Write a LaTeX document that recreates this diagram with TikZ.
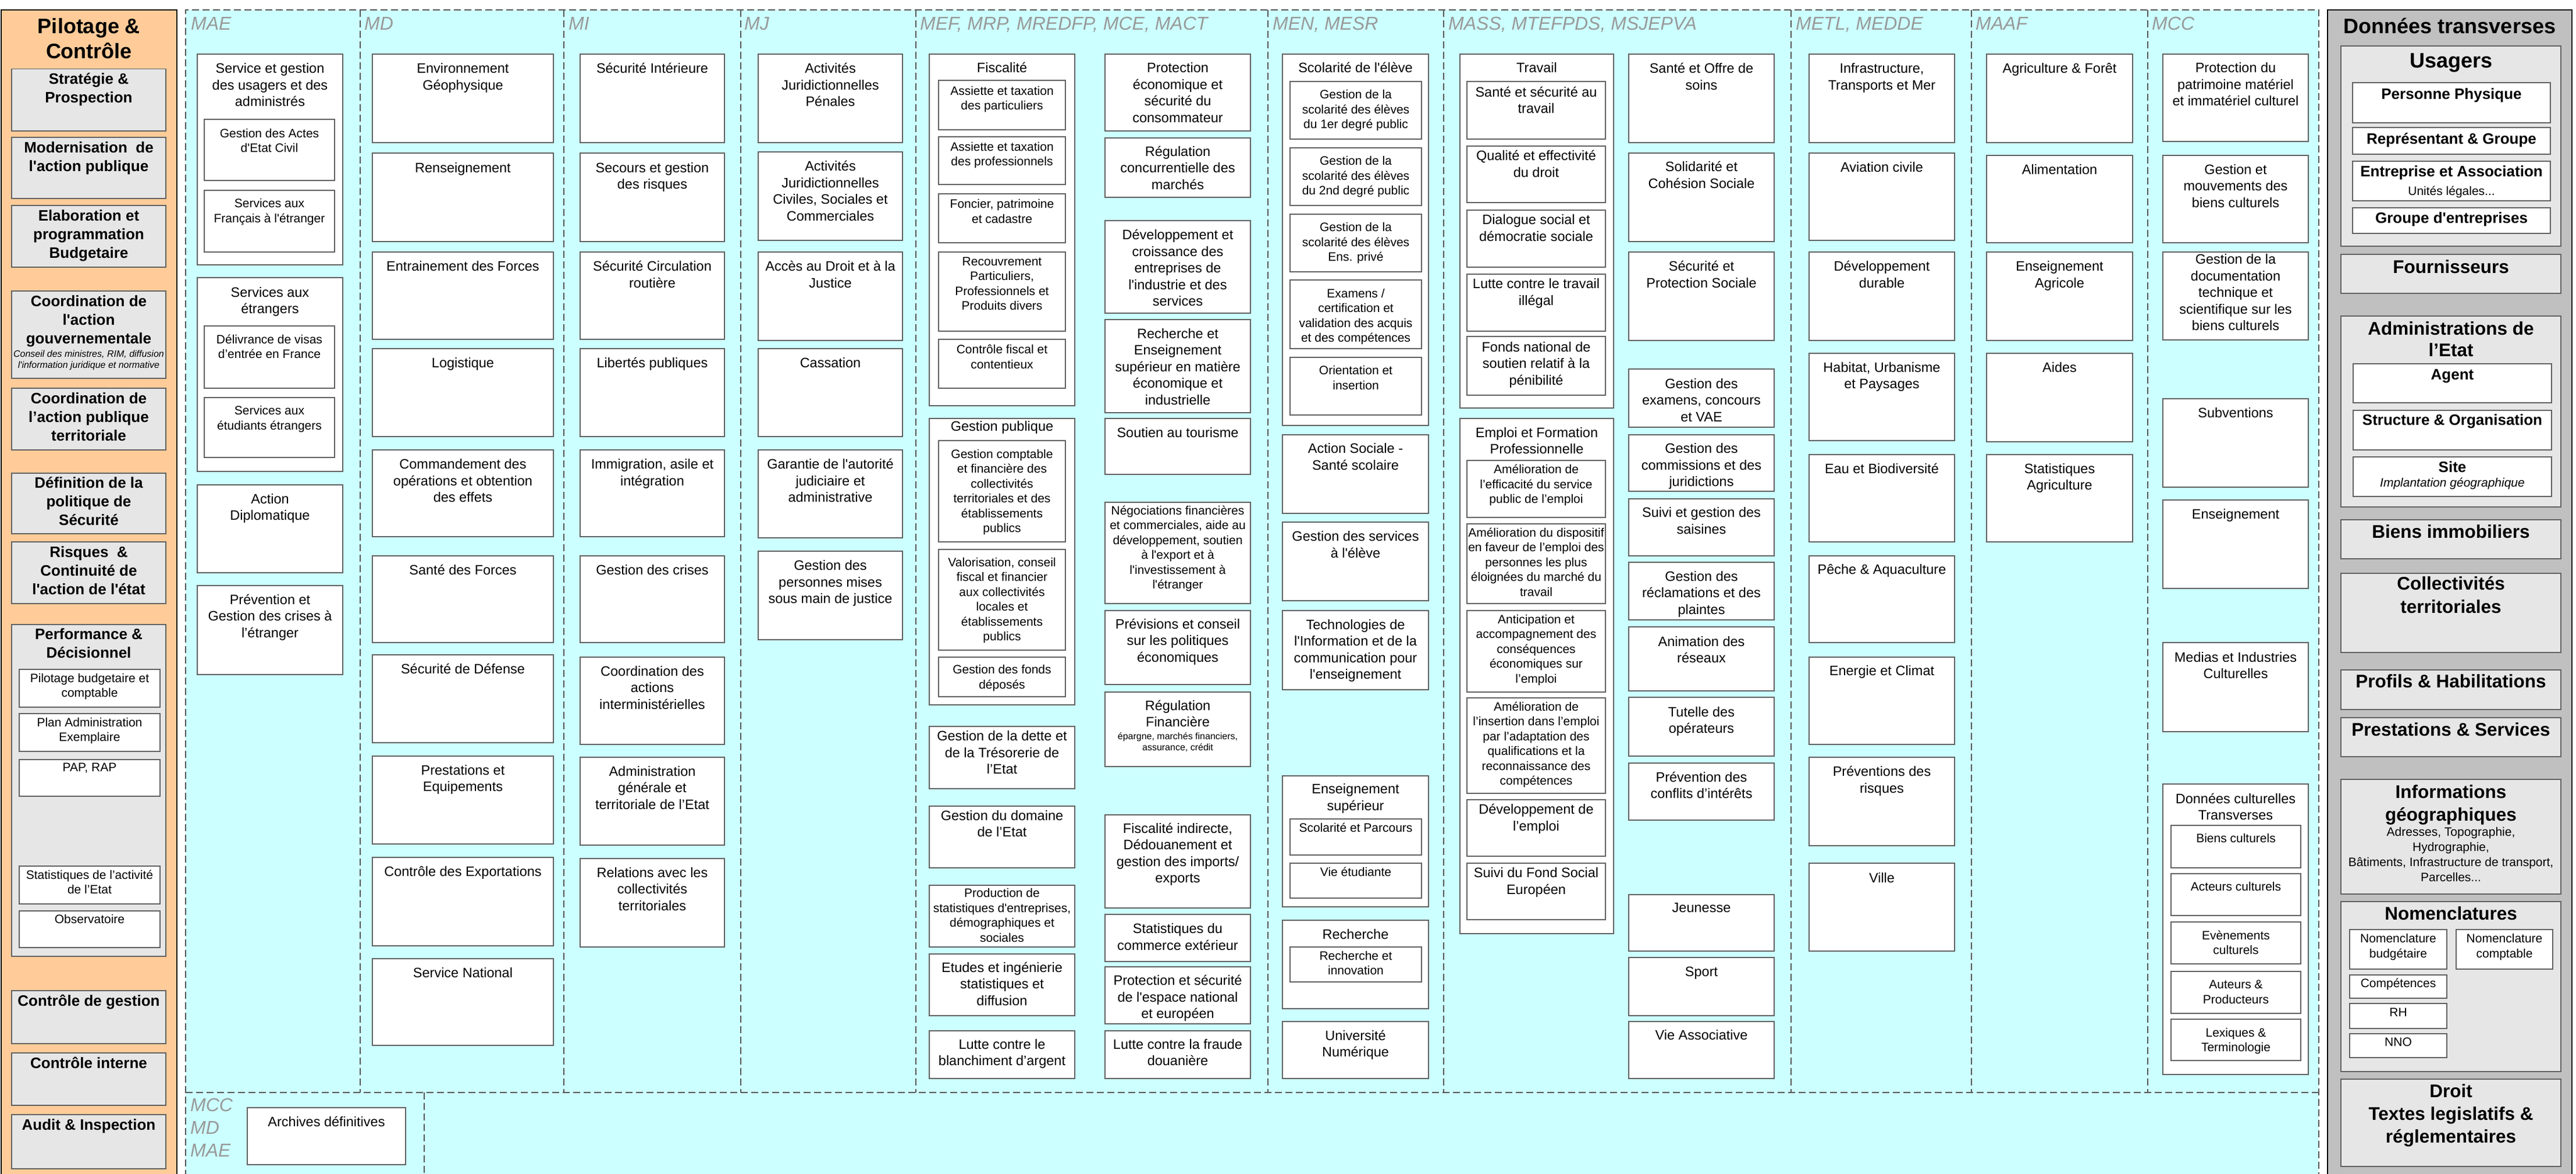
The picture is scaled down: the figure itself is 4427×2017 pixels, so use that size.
\documentclass[tikz,border=0pt]{standalone}
\usepackage{fontspec}
\setmainfont{Liberation Sans}[Ligatures=TeXOff]
\definecolor{peach}{HTML}{FFCC99}
\definecolor{cyanbg}{HTML}{CCFFFF}
\definecolor{panelgray}{HTML}{C0C0C0}
\definecolor{boxgray}{HTML}{E6E6E6}
\definecolor{bordergray}{HTML}{606060}
\definecolor{labelgray}{HTML}{999999}
\definecolor{dashgray}{HTML}{555555}
\tikzset{
  wbox/.style={draw=bordergray, fill=white, line width=1.5pt, inner sep=0pt, outer sep=0pt, rectangle},
  gbox/.style={wbox, fill=boxgray},
  pilot/.style={draw=black, fill=peach, line width=2.5pt, inner sep=0pt, outer sep=0pt, rectangle},
  donnees/.style={draw=black, fill=panelgray, line width=2.5pt, inner sep=0pt, outer sep=0pt, rectangle},
  dashline/.style={draw=dashgray, line width=1.4pt, dash pattern=on 12pt off 6pt},
  collabel/.style={font={\fontsize{32}{38}\selectfont\itshape}, text=labelgray, inner sep=0pt, anchor=base west},
  tm/.style={font={\fontsize{23.5}{28.5}\selectfont\def\fsr{\rule{0pt}{#1pt}}}},
  ts/.style={font={\fontsize{21}{25.5}\selectfont\def\fsr{\rule{0pt}{#1pt}}}},
  tb/.style={font={\fontsize{26}{32}\selectfont\bfseries\def\fsr{\rule{0pt}{#1pt}}}},
  th/.style={font={\fontsize{31.5}{37}\selectfont\bfseries\def\fsr{\rule{0pt}{#1pt}}}},
  tt/.style={font={\fontsize{36}{43}\selectfont\bfseries\def\fsr{\rule{0pt}{#1pt}}}},
}
\newcommand{\smit}{\fontsize{16}{19}\selectfont\mdseries\itshape}
\newcommand{\smi}{\fontsize{21}{25.5}\selectfont\mdseries\itshape}
\newcommand{\smr}{\fontsize{21}{25.5}\selectfont\mdseries}
\newcommand{\sme}{\fontsize{16}{19}\selectfont\mdseries}
% #1 name, #2 x1, #3 y1, #4 x2, #5 y2, #6 box style, #7 text style, #8 text
\newcommand{\mybox}[8]{%
  \node[#6, minimum width={((#4)-(#2))*1pt}, minimum height={((#5)-(#3))*1pt}] (#1) at ({((#2)+(#4))/2},{((#3)+(#5))/2}) {};
  \node[#7, anchor=north, inner sep=0pt, align=center] (#1-t) at (#1.north) {\fsr #8};
}
\begin{document}
\begin{tikzpicture}[x=1pt,y=-1pt]
\path[use as bounding box] (0,0) rectangle (4427,2017);
\clip (0,0) rectangle (4427,2017);
\fill[white] (0,0) rectangle (4427,2017);
% ministries area
\fill[cyanbg] (319,17) rectangle (3985,2040);
\draw[dashline] (319,2040) -- (319,17) -- (3985,17) -- (3985,2040);
\foreach \x in {619,969,1273,1574,2179,2481,3078,3388,3691} \draw[dashline] (\x,17) -- (\x,1877);
\draw[dashline] (319,1877) -- (3985,1877);
\draw[dashline] (729,1877) -- (729,2040);
% column labels
\node[collabel] (l-mae) at (328,52) {MAE};
\node[collabel] (l-md) at (626,52) {MD};
\node[collabel] (l-mi) at (977,52) {MI};
\node[collabel] (l-mj) at (1279,52) {MJ};
\node[collabel] (l-mef) at (1581,52) {MEF, MRP, MREDFP, MCE, MACT};
\node[collabel] (l-men) at (2187,52) {MEN, MESR};
\node[collabel] (l-mass) at (2489,52) {MASS, MTEFPDS, MSJEPVA};
\node[collabel] (l-metl) at (3086,52) {METL, MEDDE};
\node[collabel] (l-maaf) at (3395,52) {MAAF};
\node[collabel] (l-mcc) at (3698,52) {MCC};
\node[collabel] (l-b1) at (327,1909.5) {MCC};
\node[collabel] (l-b2) at (327,1948.5) {MD};
\node[collabel] (l-b3) at (327,1987.5) {MAE};
\mybox{arch}{425}{1903}{697}{2001}{wbox}{tm=32}{Archives définitives}
% MAE
\mybox{mae1}{339}{93}{589}{455}{wbox}{tm=32.5}{Service et gestion\\des usagers et des\\administrés}
\mybox{mae1a}{351}{205}{575}{310}{wbox}{ts=31}{Gestion des Actes\\d'Etat Civil}
\mybox{mae1b}{351}{327}{575}{433}{wbox}{ts=29.5}{Services aux\\Français à l'étranger}
\mybox{mae2}{339}{477}{589}{810}{wbox}{tm=33}{Services aux\\étrangers}
\mybox{mae2a}{351}{560}{575}{667}{wbox}{ts=30}{Délivrance de visas\\d’entrée en France}
\mybox{mae2b}{351}{683}{575}{786}{wbox}{ts=29.5}{Services aux\\étudiants étrangers}
\mybox{mae3}{339}{833}{589}{984}{wbox}{tm=32}{Action\\Diplomatique}
\mybox{mae4}{339}{1006}{589}{1159}{wbox}{tm=32}{Prévention et\\Gestion des crises à\\l’étranger}
% MD
\mybox{md1}{640}{93}{951}{245}{wbox}{tm=32.5}{Environnement\\Géophysique}
\mybox{md2}{640}{263}{951}{415}{wbox}{tm=33}{Renseignement}
\mybox{md3}{640}{433}{951}{583}{wbox}{tm=32.5}{Entrainement des Forces}
\mybox{md4}{640}{599}{951}{750}{wbox}{tm=32.5}{Logistique}
\mybox{md5}{640}{773}{951}{922}{wbox}{tm=32.5}{Commandement des\\opérations et obtention\\des effets}
\mybox{md6}{640}{955}{951}{1104}{wbox}{tm=32.5}{Santé des Forces}
\mybox{md7}{640}{1125}{951}{1276}{wbox}{tm=32}{Sécurité de Défense}
\mybox{md8}{640}{1299}{951}{1450}{wbox}{tm=32}{Prestations et\\Equipements}
\mybox{md9}{640}{1473}{951}{1625}{wbox}{tm=32}{Contrôle des Exportations}
\mybox{md10}{640}{1647}{951}{1796}{wbox}{tm=32}{Service National}
% MI
\mybox{mi1}{997}{93}{1245}{245}{wbox}{tm=32.5}{Sécurité Intérieure}
\mybox{mi2}{997}{263}{1245}{415}{wbox}{tm=33}{Secours et gestion\\des risques}
\mybox{mi3}{997}{433}{1245}{583}{wbox}{tm=32.5}{Sécurité Circulation\\routière}
\mybox{mi4}{997}{599}{1245}{750}{wbox}{tm=32.5}{Libertés publiques}
\mybox{mi5}{997}{773}{1245}{922}{wbox}{tm=32.5}{Immigration, asile et\\intégration}
\mybox{mi6}{997}{955}{1245}{1104}{wbox}{tm=32.5}{Gestion des crises}
\mybox{mi7}{997}{1129}{1245}{1279}{wbox}{tm=32}{Coordination des\\actions\\interministérielles}
\mybox{mi8}{997}{1301}{1245}{1452}{wbox}{tm=32}{Administration\\générale et\\territoriale de l’Etat}
\mybox{mi9}{997}{1475}{1245}{1627}{wbox}{tm=32}{Relations avec les\\collectivités\\territoriales}
% MJ
\mybox{mj1}{1303}{93}{1551}{245}{wbox}{tm=32.5}{Activités\\Juridictionnelles\\Pénales}
\mybox{mj2}{1303}{261}{1551}{413}{wbox}{tm=32.5}{Activités\\Juridictionnelles\\Civiles, Sociales et\\Commerciales}
\mybox{mj3}{1303}{433}{1551}{585}{wbox}{tm=32.5}{Accès au Droit et à la\\Justice}
\mybox{mj4}{1303}{599}{1551}{750}{wbox}{tm=32.5}{Cassation}
\mybox{mj5}{1303}{773}{1551}{924}{wbox}{tm=32.5}{Garantie de l'autorité\\judiciaire et\\administrative}
\mybox{mj6}{1303}{947}{1551}{1099}{wbox}{tm=32.5}{Gestion des\\personnes mises\\sous main de justice}
% MEF left
\mybox{mef1}{1597}{93}{1847}{697}{wbox}{tm=31}{Fiscalité}
\mybox{mef1a}{1613}{138}{1831}{223}{wbox}{ts=25}{Assiette et taxation\\des particuliers}
\mybox{mef1b}{1613}{235}{1831}{317}{wbox}{ts=24}{Assiette et taxation\\des professionnels}
\mybox{mef1c}{1613}{333}{1831}{417}{wbox}{ts=24.5}{Foncier, patrimoine\\et cadastre}
\mybox{mef1d}{1613}{433}{1831}{569}{wbox}{ts=23}{Recouvrement\\Particuliers,\\Professionnels et\\Produits divers}
\mybox{mef1e}{1613}{583}{1831}{667}{wbox}{ts=24.5}{Contrôle fiscal et\\contentieux}
\mybox{mef2}{1597}{719}{1847}{1211}{wbox}{tm=21.5}{Gestion publique}
\mybox{mef2a}{1613}{757}{1831}{931}{wbox}{ts=30}{Gestion comptable\\et financière des\\collectivités\\territoriales et des\\établissements\\publics}
\mybox{mef2b}{1613}{944}{1831}{1117}{wbox}{ts=29}{Valorisation, conseil\\fiscal et financier\\aux collectivités\\locales et\\établissements\\publics}
\mybox{mef2c}{1613}{1129}{1831}{1197}{wbox}{ts=28.5}{Gestion des fonds\\déposés}
\mybox{mef3}{1597}{1248}{1847}{1355}{wbox}{tm=24.5}{Gestion de la dette et\\de la Trésorerie de\\l’Etat}
\mybox{mef4}{1597}{1385}{1847}{1491}{wbox}{tm=24}{Gestion du domaine\\de l’Etat}
\mybox{mef5}{1597}{1521}{1847}{1627}{wbox}{ts=20.5}{Production de\\statistiques d'entreprises,\\démographiques et\\sociales}
\mybox{mef6}{1597}{1639}{1847}{1745}{wbox}{tm=31}{Etudes et ingénierie\\statistiques et\\diffusion}
\mybox{mef7}{1597}{1771}{1847}{1853}{wbox}{tm=31}{Lutte contre le\\blanchiment d’argent}
% MEF right
\mybox{mef8}{1899}{93}{2149}{225}{wbox}{tm=31.5}{Protection\\économique et\\sécurité du\\consommateur}
\mybox{mef9}{1899}{237}{2149}{339}{wbox}{tm=31}{Régulation\\concurrentielle des\\marchés}
\mybox{mef10}{1899}{379}{2149}{538}{wbox}{tm=32.5}{Développement et\\croissance des\\entreprises de\\l'industrie et des\\services}
\mybox{mef11}{1899}{549}{2149}{709}{wbox}{tm=32}{Recherche et\\Enseignement\\supérieur en matière\\économique et\\industrielle}
\mybox{mef12}{1899}{719}{2149}{815}{wbox}{tm=32.5}{Soutien au tourisme}
\mybox{mef13}{1899}{863}{2149}{1037}{wbox}{ts=21}{Négociations financières\\et commerciales, aide au\\développement, soutien\\à l'export et à\\l'investissement à\\l'étranger}
\mybox{mef14}{1899}{1049}{2149}{1176}{wbox}{tm=31}{Prévisions et conseil\\sur les politiques\\économiques}
\mybox{mef15}{1899}{1189}{2149}{1317}{wbox}{tm=31}{Régulation\\Financière\\[-7pt]{\sme épargne, marchés financiers,}\\[-9.5pt]{\sme assurance, crédit}}
\mybox{mef16}{1899}{1400}{2149}{1560}{wbox}{tm=31}{Fiscalité indirecte,\\Dédouanement et\\gestion des imports/\\exports}
\mybox{mef17}{1899}{1571}{2149}{1652}{wbox}{tm=32.5}{Statistiques du\\commerce extérieur}
\mybox{mef18}{1899}{1661}{2149}{1759}{wbox}{tm=31.5}{Protection et sécurité\\de l'espace national\\et européen}
\mybox{mef19}{1899}{1771}{2149}{1853}{wbox}{tm=31}{Lutte contre la fraude\\douanière}
% MEN
\mybox{men1}{2204}{93}{2455}{731}{wbox}{tm=31.5}{Scolarité de l'élève}
\mybox{men1a}{2217}{140}{2443}{239}{wbox}{ts=29.5}{Gestion de la\\scolarité des élèves\\du 1er degré public}
\mybox{men1b}{2217}{254}{2443}{353}{wbox}{ts=29.5}{Gestion de la\\scolarité des élèves\\du 2nd degré public}
\mybox{men1c}{2217}{368}{2443}{467}{wbox}{ts=29.5}{Gestion de la\\scolarité des élèves\\Ens. privé}
\mybox{men1d}{2217}{481}{2443}{599}{wbox}{ts=30}{Examens /\\certification et\\validation des acquis\\et des compétences}
\mybox{men1e}{2217}{614}{2443}{713}{wbox}{ts=29.5}{Orientation et\\insertion}
\mybox{men2}{2204}{747}{2455}{882}{wbox}{tm=31.5}{Action Sociale -\\Santé scolaire}
\mybox{men3}{2204}{897}{2455}{1032}{wbox}{tm=32.5}{Gestion des services\\à l'élève}
\mybox{men4}{2204}{1049}{2455}{1185}{wbox}{tm=32}{Technologies de\\l'Information et de la\\communication pour\\l'enseignement}
\mybox{men5}{2204}{1333}{2455}{1558}{wbox}{tm=30.5}{Enseignement\\supérieur}
\mybox{men5a}{2217}{1407}{2443}{1469}{wbox}{ts=22}{Scolarité et Parcours}
\mybox{men5b}{2217}{1483}{2443}{1543}{wbox}{ts=22}{Vie étudiante}
\mybox{men6}{2204}{1581}{2455}{1733}{wbox}{tm=32}{Recherche}
\mybox{men6a}{2217}{1627}{2443}{1687}{wbox}{ts=22}{Recherche et\\innovation}
\mybox{men7}{2204}{1755}{2455}{1853}{wbox}{tm=32}{Université\\Numérique}
% MASS left
\mybox{mas1}{2509}{93}{2773}{701}{wbox}{tm=31.5}{Travail}
\mybox{mas1a}{2521}{140}{2759}{239}{wbox}{tm=26}{Santé et sécurité au\\travail}
\mybox{mas1b}{2521}{251}{2759}{348}{wbox}{tm=24.5}{Qualité et effectivité\\du droit}
\mybox{mas1c}{2521}{361}{2759}{459}{wbox}{tm=24.5}{Dialogue social et\\démocratie sociale}
\mybox{mas1d}{2521}{471}{2759}{569}{wbox}{tm=24.5}{Lutte contre le travail\\illégal}
\mybox{mas1e}{2521}{578}{2759}{679}{wbox}{tm=26}{Fonds national de\\soutien relatif à la\\pénibilité}
\mybox{mas2}{2509}{719}{2773}{1604}{wbox}{tm=32}{Emploi et Formation\\Professionnelle}
\mybox{mas2a}{2521}{791}{2759}{889}{wbox}{ts=22.5}{Amélioration de\\l’efficacité du service\\public de l’emploi}
\mybox{mas2b}{2521}{900}{2759}{1037}{wbox}{ts=22}{Amélioration du dispositif\\en faveur de l’emploi des\\personnes les plus\\éloignées du marché du\\travail}
\mybox{mas2c}{2521}{1049}{2759}{1189}{wbox}{ts=22}{Anticipation et\\accompagnement des\\conséquences\\économiques sur\\l’emploi}
\mybox{mas2d}{2521}{1199}{2759}{1363}{wbox}{ts=22}{Amélioration de\\l’insertion dans l’emploi\\par l’adaptation des\\qualifications et la\\reconnaissance des\\compétences}
\mybox{mas2e}{2521}{1374}{2759}{1471}{wbox}{tm=24.5}{Développement de\\l’emploi}
\mybox{mas2f}{2521}{1483}{2759}{1580}{wbox}{tm=24.5}{Suivi du Fond Social\\Européen}
% MASS right
\mybox{mas3}{2799}{93}{3049}{245}{wbox}{tm=32.5}{Santé et Offre de\\soins}
\mybox{mas4}{2799}{263}{3049}{415}{wbox}{tm=31.5}{Solidarité et\\Cohésion Sociale}
\mybox{mas5}{2799}{433}{3049}{585}{wbox}{tm=32.5}{Sécurité et\\Protection Sociale}
\mybox{mas6}{2799}{634}{3049}{734}{wbox}{tm=33}{Gestion des\\examens, concours\\et VAE}
\mybox{mas7}{2799}{747}{3049}{844}{wbox}{tm=31.5}{Gestion des\\commissions et des\\juridictions}
\mybox{mas8}{2799}{857}{3049}{955}{wbox}{tm=31.5}{Suivi et gestion des\\saisines}
\mybox{mas9}{2799}{966}{3049}{1065}{wbox}{tm=32}{Gestion des\\réclamations et des\\plaintes}
\mybox{mas10}{2799}{1077}{3049}{1187}{wbox}{tm=33}{Animation des\\réseaux}
\mybox{mas11}{2799}{1198}{3049}{1299}{wbox}{tm=33}{Tutelle des\\opérateurs}
\mybox{mas12}{2799}{1311}{3049}{1409}{wbox}{tm=32}{Prévention des\\conflits d’intérêts}
\mybox{mas13}{2799}{1537}{3049}{1634}{wbox}{tm=30.5}{Jeunesse}
\mybox{mas14}{2799}{1645}{3049}{1745}{wbox}{tm=32}{Sport}
\mybox{mas15}{2799}{1755}{3049}{1853}{wbox}{tm=31.5}{Vie Associative}
% METL
\mybox{met1}{3109}{93}{3359}{245}{wbox}{tm=32.5}{Infrastructure,\\Transports et Mer}
\mybox{met2}{3109}{263}{3359}{413}{wbox}{tm=32}{Aviation civile}
\mybox{met3}{3109}{433}{3359}{585}{wbox}{tm=32.5}{Développement\\durable}
\mybox{met4}{3109}{607}{3359}{757}{wbox}{tm=32}{Habitat, Urbanisme\\et Paysages}
\mybox{met5}{3109}{781}{3359}{931}{wbox}{tm=32}{Eau et Biodiversité}
\mybox{met6}{3109}{955}{3359}{1104}{wbox}{tm=31.5}{Pêche \& Aquaculture}
\mybox{met7}{3109}{1129}{3359}{1279}{wbox}{tm=31}{Energie et Climat}
\mybox{met8}{3109}{1301}{3359}{1453}{wbox}{tm=32.5}{Préventions des\\risques}
\mybox{met9}{3109}{1483}{3359}{1634}{wbox}{tm=33}{Ville}
% MAAF
\mybox{maa1}{3414}{93}{3665}{245}{wbox}{tm=32.5}{Agriculture \& Forêt}
\mybox{maa2}{3414}{267}{3665}{417}{wbox}{tm=32}{Alimentation}
\mybox{maa3}{3414}{433}{3665}{585}{wbox}{tm=32.5}{Enseignement\\Agricole}
\mybox{maa4}{3414}{607}{3665}{759}{wbox}{tm=32}{Aides}
\mybox{maa5}{3414}{781}{3665}{931}{wbox}{tm=32}{Statistiques\\Agriculture}
% MCC
\mybox{mcc1}{3717}{93}{3967}{243}{wbox}{tm=31.5}{Protection du\\patrimoine matériel\\et immatériel culturel}
\mybox{mcc2}{3717}{267}{3967}{417}{wbox}{tm=32}{Gestion et\\mouvements des\\biens culturels}
\mybox{mcc3}{3717}{433}{3967}{584}{wbox}{tm=20.5}{Gestion de la\\documentation\\technique et\\scientifique sur les\\biens culturels}
\mybox{mcc4}{3717}{685}{3967}{837}{wbox}{tm=32.5}{Subventions}
\mybox{mcc5}{3717}{859}{3967}{1011}{wbox}{tm=32.5}{Enseignement}
\mybox{mcc6}{3717}{1104}{3967}{1257}{wbox}{tm=33}{Medias et Industries\\Culturelles}
\mybox{mcc7}{3717}{1347}{3967}{1846}{wbox}{tm=33}{Données culturelles\\Transverses}
\mybox{mcc7a}{3731}{1418}{3954}{1491}{wbox}{ts=29.5}{Biens culturels}
\mybox{mcc7b}{3731}{1501}{3954}{1573}{wbox}{ts=29.5}{Acteurs culturels}
\mybox{mcc7c}{3731}{1584}{3954}{1656}{wbox}{ts=30}{Evènements\\culturels}
\mybox{mcc7d}{3731}{1669}{3954}{1741}{wbox}{ts=29.5}{Auteurs \&\\Producteurs}
\mybox{mcc7e}{3731}{1751}{3954}{1822}{wbox}{ts=30}{Lexiques \&\\Terminologie}
% Pilotage & Controle panel
\mybox{pc}{2}{17}{304}{2040}{pilot}{tt=40}{Pilotage \&\\Contrôle}
\mybox{pc1}{20}{118.5}{285}{225}{gbox}{tb=26}{Stratégie \&\\Prospection}
\mybox{pc2}{20}{236}{285}{341}{gbox}{tb=26.5}{Modernisation~~de\\l'action publique}
\mybox{pc3}{20}{353}{285}{459}{gbox}{tb=26}{Elaboration et\\programmation\\Budgetaire}
\mybox{pc4}{20}{500}{285}{650}{gbox}{tb=26}{Coordination de\\l'action\\gouvernementale\\[-9pt]{\smit Conseil des ministres, RIM, diffusion}\\[-13pt]{\smit l'information juridique et normative}}
\mybox{pc5}{20}{667}{285}{773}{gbox}{tb=26.5}{Coordination de\\l’action publique\\territoriale}
\mybox{pc6}{20}{813}{285}{917}{gbox}{tb=25.5}{Définition de la\\politique de\\Sécurité}
\mybox{pc7}{20}{931}{285}{1037}{gbox}{tb=26.5}{Risques~~\&\\Continuité de\\l'action de l'état}
\mybox{pc8}{20}{1073}{285}{1643}{gbox}{tb=25.5}{Performance \&\\Décisionnel}
\mybox{pc8a}{33}{1150}{275}{1215}{wbox}{ts=22}{Pilotage budgetaire et\\comptable}
\mybox{pc8b}{33}{1226}{275}{1291}{wbox}{ts=22}{Plan Administration\\Exemplaire}
\mybox{pc8c}{33}{1305}{275}{1368}{wbox}{ts=20.5}{PAP, RAP}
\mybox{pc8d}{33}{1488}{275}{1553}{wbox}{ts=22}{Statistiques de l’activité\\de l’Etat}
\mybox{pc8e}{33}{1565}{275}{1628}{wbox}{ts=21}{Observatoire}
\mybox{pc9}{20}{1702}{285}{1793}{gbox}{tb=26.5}{Contrôle de gestion}
\mybox{pc10}{20}{1809}{285}{1899}{gbox}{tb=26}{Contrôle interne}
\mybox{pc11}{20}{1915}{285}{2008}{gbox}{tb=26}{Audit \& Inspection}
% Donnees transverses panel
\mybox{dt}{4000}{17}{4420}{2040}{donnees}{tt=40}{Données transverses}
\mybox{dt1}{4023}{79}{4401}{423}{gbox}{tt=37}{Usagers}
\mybox{dt1a}{4043}{142}{4383}{211}{wbox}{tb=28}{Personne Physique}
\mybox{dt1b}{4043}{219}{4383}{265}{wbox}{tb=28}{Représentant \& Groupe}
\mybox{dt1c}{4043}{277}{4383}{345}{wbox}{tb=26}{Entreprise et Association\\{\smr Unités légales...}}
\mybox{dt1d}{4043}{357}{4383}{401}{wbox}{tb=26}{Groupe d'entreprises}
\mybox{dt2}{4023}{437}{4401}{504}{gbox}{th=32}{Fournisseurs}
\mybox{dt3}{4023}{543}{4401}{871}{gbox}{th=32}{Administrations de\\l’Etat}
\mybox{dt3a}{4044}{625}{4385}{692}{wbox}{tb=27}{Agent}
\mybox{dt3b}{4044}{705}{4385}{773}{wbox}{tb=25.5}{Structure \& Organisation}
\mybox{dt3c}{4044}{785}{4385}{853}{wbox}{tb=26}{Site\\[-6.5pt]{\smi Implantation géographique}}
\mybox{dt4}{4023}{893}{4401}{960}{gbox}{th=31}{Biens immobiliers}
\mybox{dt5}{4023}{985}{4401}{1121}{gbox}{th=28.5}{Collectivités\\[3pt]territoriales}
\mybox{dt6}{4023}{1151}{4401}{1219}{gbox}{th=30.5}{Profils \& Habilitations}
\mybox{dt7}{4023}{1233}{4401}{1300}{gbox}{th=31.5}{Prestations \& Services}
\mybox{dt8}{4023}{1339}{4401}{1536}{gbox}{th=32}{Informations\\[2pt]géographiques\\[-11pt]{\smr Adresses, Topographie,}\\[-11pt]{\smr Hydrographie,}\\[-11pt]{\smr Bâtiments, Infrastructure de transport,}\\[-11pt]{\smr Parcelles...}}
\mybox{dt9}{4023}{1549}{4401}{1841}{gbox}{th=31.5}{Nomenclatures}
\mybox{dt9a}{4038}{1597}{4205}{1665}{wbox}{ts=22.5}{Nomenclature\\budgétaire}
\mybox{dt9b}{4221}{1597}{4387}{1665}{wbox}{ts=22.5}{Nomenclature\\comptable}
\mybox{dt9c}{4038}{1675}{4205}{1715}{wbox}{ts=21.5}{Compétences}
\mybox{dt9d}{4038}{1724}{4205}{1767}{wbox}{ts=22}{RH}
\mybox{dt9e}{4038}{1776}{4205}{1817}{wbox}{ts=21}{NNO}
\mybox{dt10}{4023}{1854}{4401}{2004}{gbox}{th=31}{Droit\\[2pt]Textes legislatifs \&\\[2pt]réglementaires}
\end{tikzpicture}
\end{document}
